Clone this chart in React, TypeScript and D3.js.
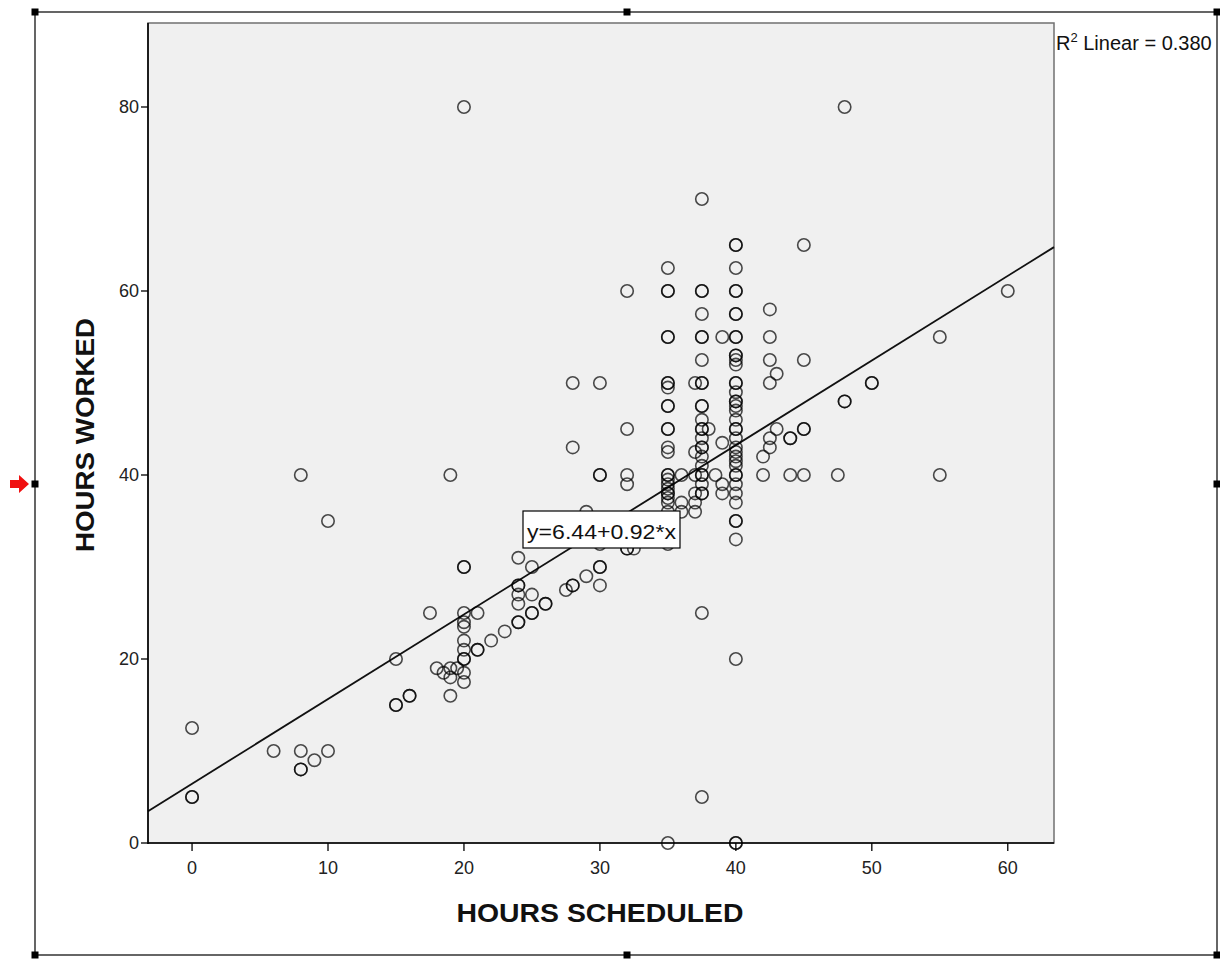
import React from "react";
import * as d3 from "d3";

// ---- data (hours scheduled vs hours worked; repeated pairs = overlapping cases) ----
const hoursScheduled: number[] = [
  0, 0, 0,
  6, 8, 8, 8, 9, 10, 8, 10,
  15, 15, 15, 16, 16, 17.5, 19,
  18, 18.5, 19, 19, 19, 19.5,
  20, 20, 20, 20, 20, 20, 20, 20, 20, 20, 20, 20,
  21, 21, 21, 22, 23, 24, 24, 24, 24, 24, 24, 24, 25, 25, 25, 25, 26, 26, 27.5, 28, 28, 28, 28, 29, 29,
  30, 30, 30, 30, 30, 30, 30,
  32, 32, 32, 32, 32, 32, 32.5,
  35, 35, 35, 35, 35, 35, 35, 35, 35, 35, 35, 35, 35, 35, 35, 35, 35, 35, 35, 35, 35, 35, 35, 35, 35, 35, 35,
  36, 36, 36,
  37, 37, 37, 37, 37, 37,
  37.5, 37.5, 37.5, 37.5, 37.5, 37.5, 37.5, 37.5, 37.5, 37.5, 37.5, 37.5, 37.5, 37.5, 37.5, 37.5, 37.5, 37.5, 37.5, 37.5, 37.5, 37.5, 37.5, 37.5, 37.5, 37.5,
  38, 38.5, 39, 39, 39, 39,
  40, 40, 40, 40, 40, 40, 40, 40, 40, 40, 40, 40, 40, 40, 40, 40, 40, 40, 40, 40, 40, 40, 40, 40, 40, 40, 40, 40, 40, 40, 40, 40, 40, 40, 40, 40, 40, 40, 40, 40,
  42, 42, 42.5, 42.5, 42.5, 42.5, 42.5, 42.5, 43, 43, 44, 44, 44, 45, 45, 45, 45, 45, 47.5, 48, 48, 48, 50, 50, 55, 55, 60,
];

const hoursWorked: number[] = [
  12.5, 5, 5,
  10, 10, 8, 8, 9, 10, 40, 35,
  20, 15, 15, 16, 16, 25, 40,
  19, 18.5, 19, 18, 16, 19,
  80, 30, 30, 25, 24, 23.5, 22, 21, 20, 20, 18.5, 17.5,
  25, 21, 21, 22, 23, 31, 28, 28, 27, 26, 24, 24, 30, 27, 25, 25, 26, 26, 27.5, 28, 28, 50, 43, 29, 36,
  50, 40, 40, 30, 30, 28, 32.5,
  60, 45, 40, 39, 32, 32, 32,
  62.5, 60, 60, 55, 55, 50, 50, 49.5, 47.5, 47.5, 45, 45, 43, 42.5, 40, 40, 39.5, 39, 38.5, 38, 38, 37.5, 37, 36, 35, 32.5, 0,
  36, 40, 37,
  50, 42.5, 40, 38, 37, 36,
  70, 60, 60, 57.5, 55, 55, 52.5, 50, 50, 47.5, 47.5, 46, 45, 45, 44, 43, 43, 42, 41, 40, 40, 39, 38, 38, 25, 5,
  45, 40, 55, 43.5, 39, 38,
  65, 65, 62.5, 60, 60, 57.5, 57.5, 55, 55, 53, 53, 52.5, 52, 50, 50, 49, 48, 48, 47.5, 47, 46, 45, 45, 44, 43, 42.5, 42, 41.5, 41, 40, 40, 39, 38, 37, 35, 35, 33, 20, 0, 0,
  40, 42, 43, 44, 50, 52.5, 55, 58, 51, 45, 44, 44, 40, 40, 45, 45, 52.5, 65, 40, 48, 48, 80, 50, 50, 40, 55, 60,
];

const xTicks: number[] = [0, 10, 20, 30, 40, 50, 60];
const yTicks: number[] = [0, 20, 40, 60, 80];

const fitIntercept = 6.44;
const fitSlope = 0.92;
const rSquared = "0.380";
const xTitle = "HOURS SCHEDULED";
const yTitle = "HOURS WORKED";

export default function App() {
  const W = 1220;
  const H = 960;
  const L = 148, R = 1054, T = 23, B = 843;

  const x = d3.scaleLinear().domain([-3.24, 63.4]).range([L, R]);
  const y = d3.scaleLinear().domain([0, 89.13]).range([B, T]);

  const n = Math.min(hoursScheduled.length, hoursWorked.length);
  const pts: [number, number][] = d3.range(n).map((i) => [hoursScheduled[i], hoursWorked[i]]);

  const [x0, x1] = x.domain();
  const lineGen = d3
    .line<number>()
    .x((d) => x(d))
    .y((d) => y(fitIntercept + fitSlope * d));

  const handles: [number, number][] = [
    [35, 12], [627, 12], [1217, 12],
    [35, 484], [1217, 484],
    [35, 955], [627, 955], [1217, 955],
  ];

  const font = "'Liberation Sans', Arial, sans-serif";

  return (
    <svg
      width={W}
      height={H}
      style={{ position: "absolute", left: 0, top: 0, background: "#fff" }}
      fontFamily={font}
    >
      <rect x={0} y={0} width={W} height={H} fill="#fff" />
      {/* outer selection frame */}
      <rect x={35} y={12} width={1182} height={943} fill="none" stroke="#000" strokeWidth={1.2} />
      {handles.map(([hx, hy], i) => (
        <rect key={i} x={hx - 3.5} y={hy - 3.5} width={7} height={7} fill="#000" />
      ))}
      {/* red arrow */}
      <path d="M10,480 L19,480 L19,475 L29,484 L19,493 L19,488 L10,488 Z" fill="#f01010" />

      {/* plot area */}
      <rect x={L} y={T} width={R - L} height={B - T} fill="#f0f0f0" stroke="#707070" strokeWidth={1.5} />

      {/* regression line */}
      <path d={lineGen([x0, x1]) || ""} fill="none" stroke="#111" strokeWidth={1.8} />

      {/* points */}
      {pts.map(([px, py], i) => (
        <circle
          key={i}
          cx={x(px)}
          cy={y(py)}
          r={6.2}
          fill="none"
          stroke="#000"
          strokeOpacity={0.7}
          strokeWidth={1.6}
        />
      ))}

      {/* axes */}
      <line x1={L} y1={T} x2={L} y2={B + 1} stroke="#000" strokeWidth={1.6} />
      <line x1={L} y1={B} x2={R} y2={B} stroke="#000" strokeWidth={1.6} />
      {yTicks.map((t) => (
        <g key={"y" + t}>
          <line x1={L - 7} x2={L} y1={y(t)} y2={y(t)} stroke="#000" strokeWidth={1.3} />
          <text x={L - 9} y={y(t)} dy="0.36em" textAnchor="end" fontSize={18} fill="#222">
            {t}
          </text>
        </g>
      ))}
      {xTicks.map((t) => (
        <g key={"x" + t}>
          <line x1={x(t)} x2={x(t)} y1={B} y2={B + 8} stroke="#000" strokeWidth={1.3} />
          <text x={x(t)} y={B + 31} textAnchor="middle" fontSize={18} fill="#222">
            {t}
          </text>
        </g>
      ))}

      {/* axis titles */}
      <text
        x={600}
        y={922}
        textAnchor="middle"
        fontSize={25}
        fontWeight="bold"
        fill="#111"
        textLength={287}
        lengthAdjust="spacingAndGlyphs"
      >
        {xTitle}
      </text>
      <text
        transform="translate(94,435) rotate(-90)"
        textAnchor="middle"
        fontSize={25}
        fontWeight="bold"
        fill="#111"
        textLength={234}
        lengthAdjust="spacingAndGlyphs"
      >
        {yTitle}
      </text>

      {/* equation label */}
      <rect x={523} y={511} width={157} height={37} fill="#fff" stroke="#000" strokeWidth={1.2} />
      <text x={527} y={539} fontSize={21} fill="#111" textLength={149} lengthAdjust="spacingAndGlyphs">
        {`y=${fitIntercept.toFixed(2)}+${fitSlope.toFixed(2)}*x`}
      </text>

      {/* R squared */}
      <text x={1056} y={50} fontSize={20} fill="#111">
        R<tspan dy={-8} fontSize={13}>2</tspan>
        <tspan dy={8}> Linear = {rSquared}</tspan>
      </text>
    </svg>
  );
}
